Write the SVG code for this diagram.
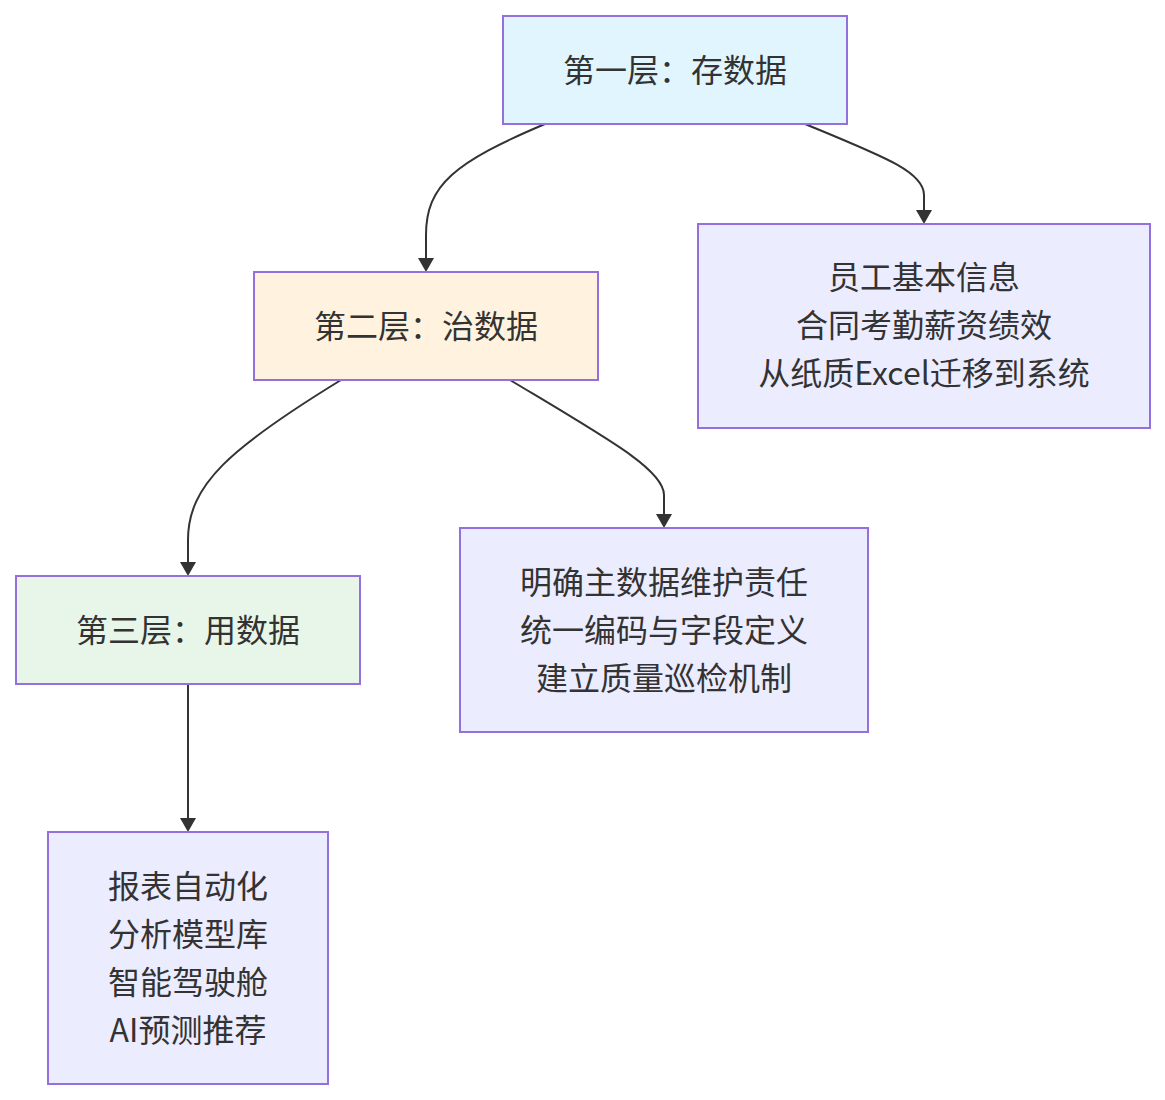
<svg xmlns="http://www.w3.org/2000/svg" width="1165" height="1100" viewBox="0 0 1165 1100">
<style>
.node rect{stroke:#9370DB;stroke-width:2}
.node text{font-family:"Noto Sans CJK SC","Noto Sans",sans-serif;font-size:32px;fill:#333;text-anchor:middle}
.edge{fill:none;stroke:#333;stroke-width:2}
</style>
<defs>
<marker id="arr" markerUnits="userSpaceOnUse" markerWidth="16" markerHeight="16" viewBox="0 0 16 16" refX="0" refY="8" orient="auto">
<path d="M0,0 L14,8 L0,16 z" fill="#333"/>
</marker>
</defs>
<rect width="1165" height="1100" fill="#fff"/>
<g id="connectors">
<path class="edge" d="M545,124 C455,162 426,185 426,235 L426,258" marker-end="url(#arr)"/>
<path class="edge" d="M805,124 C885,157 924,172 924,195 L924,210" marker-end="url(#arr)"/>
<path class="edge" d="M341,380 C230,448 188,485 188,540 L188,562" marker-end="url(#arr)"/>
<path class="edge" d="M510,380 C610,440 664,470 664,495 L664,514" marker-end="url(#arr)"/>
<path class="edge" d="M188,684 L188,818" marker-end="url(#arr)"/>
</g>
<g id="nodeA" class="node">
<rect x="503" y="16" width="344" height="108" fill="#E1F5FE"/>
<text x="675" y="82">第一层：存数据</text>
</g>
<g id="nodeB" class="node">
<rect x="254" y="272" width="344" height="108" fill="#FFF3E0"/>
<text x="426" y="338">第二层：治数据</text>
</g>
<g id="nodeC" class="node">
<rect x="16" y="576" width="344" height="108" fill="#E8F5E9"/>
<text x="188" y="642">第三层：用数据</text>
</g>
<g id="nodeA1" class="node">
<rect x="698" y="224" width="452" height="204" fill="#ECECFF"/>
<text x="924" y="289">员工基本信息</text>
<text x="924" y="337">合同考勤薪资绩效</text>
<text x="924" y="385">从纸质Excel迁移到系统</text>
</g>
<g id="nodeB1" class="node">
<rect x="460" y="528" width="408" height="204" fill="#ECECFF"/>
<text x="664" y="594">明确主数据维护责任</text>
<text x="664" y="642">统一编码与字段定义</text>
<text x="664" y="690">建立质量巡检机制</text>
</g>
<g id="nodeC1" class="node">
<rect x="48" y="832" width="280" height="252" fill="#ECECFF"/>
<text x="188" y="898">报表自动化</text>
<text x="188" y="946">分析模型库</text>
<text x="188" y="994">智能驾驶舱</text>
<text x="188" y="1042">AI预测推荐</text>
</g>
</svg>
